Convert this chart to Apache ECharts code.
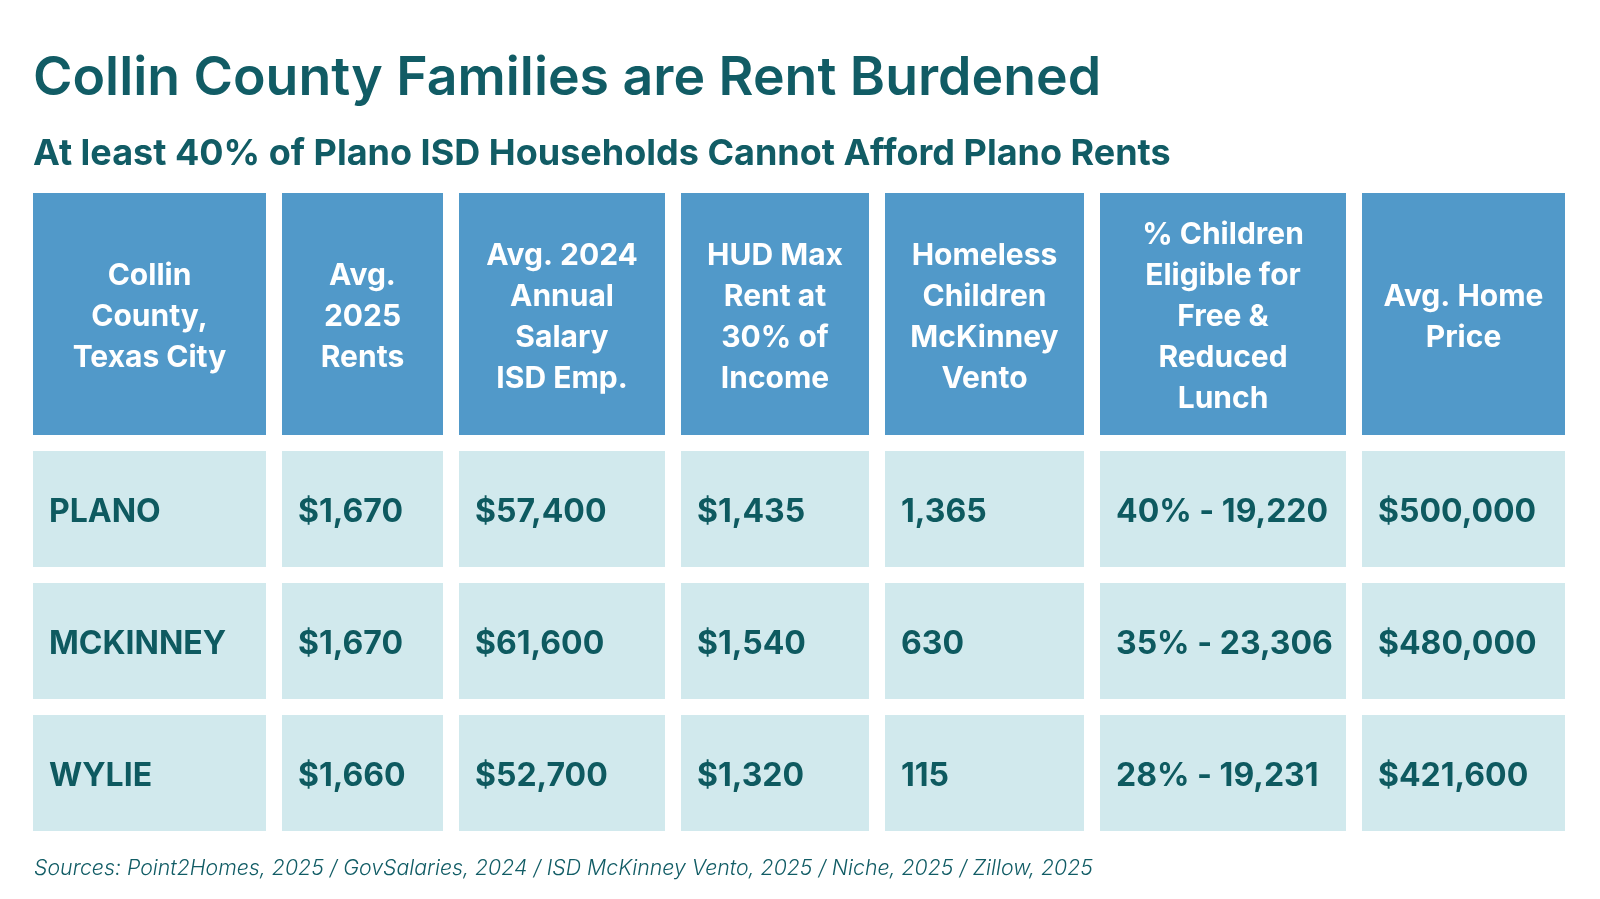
<!DOCTYPE html>
<html lang="en">
<head>
<meta charset="UTF-8">
<title>Collin County Families are Rent Burdened</title>
<script src="https://cdn.jsdelivr.net/npm/echarts@6/dist/echarts.min.js"></script>
<style>
    html, body { margin: 0; padding: 0; background: #fff; }
    #main { width: 1600px; height: 899px; }
</style>
</head>
<body>
<div id="main"></div>
<script>
// table data
var headers = [
    'Collin\nCounty,\nTexas City',
    'Avg.\n2025\nRents',
    'Avg. 2024\nAnnual\nSalary\nISD Emp.',
    'HUD Max\nRent at\n30% of\nIncome',
    'Homeless\nChildren\nMcKinney\nVento',
    '% Children\nEligible for\nFree &\nReduced\nLunch',
    'Avg. Home\nPrice'
];
var cities = ['PLANO', 'MCKINNEY', 'WYLIE'];
var avgRent = [1670, 1670, 1660];
var avgSalary = [57400, 61600, 52700];
var hudMaxRent = [1435, 1540, 1320];
var homelessKids = [1365, 630, 115];
var lunchPct = [40, 35, 28];
var lunchKids = [19220, 23306, 19231];
var homePrice = [500000, 480000, 421600];

// layout (pixels on the value axes)
var colW = [233, 161, 206, 188, 199, 246, 203];
var rowH = [242, 116, 116, 116];
var gap = 16;

function num(v) { return v.toLocaleString('en-US'); }
function money(v) { return '$' + num(v); }

function edges(sizes) {
    var out = [], pos = 0;
    sizes.forEach(function (s) { out.push(pos); pos += s + gap; });
    return out;
}
var colX = edges(colW);
var rowY = edges(rowH);
var totalW = colX[colX.length - 1] + colW[colW.length - 1];
var totalH = rowY[rowY.length - 1] + rowH[rowH.length - 1];

// one item per cell: [col, row, text]
var cells = [];
headers.forEach(function (h, c) { cells.push([c, 0, h]); });
cities.forEach(function (city, i) {
    var vals = [
        city,
        money(avgRent[i]),
        money(avgSalary[i]),
        money(hudMaxRent[i]),
        num(homelessKids[i]),
        lunchPct[i] + '% - ' + num(lunchKids[i]),
        money(homePrice[i])
    ];
    vals.forEach(function (v, c) { cells.push([c, i + 1, v]); });
});

var myChart = echarts.init(document.getElementById('main'));

myChart.setOption({
    backgroundColor: '#ffffff',
    animation: false,
    title: [{
        text: 'Collin County Families are Rent Burdened',
        left: 28, top: 47,
        textStyle: { fontFamily: 'Inter', fontWeight: 600, fontSize: 53.6, color: '#115c65' }
    }, {
        text: 'At least 40% of Plano ISD Households Cannot Afford Plano Rents',
        left: 28, top: 131,
        textStyle: { fontFamily: 'Inter', fontWeight: 700, fontSize: 36, color: '#115c65' }
    }, {
        text: 'Sources: Point2Homes, 2025 / GovSalaries, 2024 / ISD McKinney Vento, 2025 / Niche, 2025 / Zillow, 2025',
        left: 29, top: 853,
        textStyle: { fontFamily: 'Inter', fontWeight: 300, fontStyle: 'italic', fontSize: 21.3, color: '#115c65' }
    }],
    grid: { left: 33, top: 193, width: totalW, height: totalH },
    xAxis: { type: 'value', min: 0, max: totalW, show: false },
    yAxis: { type: 'value', min: 0, max: totalH, inverse: true, show: false },
    series: [{
        type: 'custom',
        data: cells,
        renderItem: function (params, api) {
            var c = api.value(0), r = api.value(1);
            var text = cells[params.dataIndex][2];
            var p0 = api.coord([colX[c], rowY[r]]);
            var p1 = api.coord([colX[c] + colW[c], rowY[r] + rowH[r]]);
            var w = p1[0] - p0[0], h = p1[1] - p0[1];
            var head = r === 0;
            return {
                type: 'group',
                children: [{
                    type: 'rect',
                    shape: { x: p0[0], y: p0[1], width: w, height: h },
                    style: { fill: head ? '#5199c9' : '#d1e9ed' }
                }, {
                    type: 'text',
                    x: head ? p0[0] + w / 2 : p0[0] + 16,
                    y: p0[1] + h / 2 + 3,
                    style: {
                        text: text,
                        fill: head ? '#ffffff' : '#0e5a60',
                        fontFamily: 'Inter',
                        fontWeight: 700,
                        fontSize: head ? 30 : 32,
                        lineHeight: head ? 41 : 40,
                        align: head ? 'center' : 'left',
                        verticalAlign: 'middle'
                    }
                }]
            };
        }
    }]
});
</script>
</body>
</html>
